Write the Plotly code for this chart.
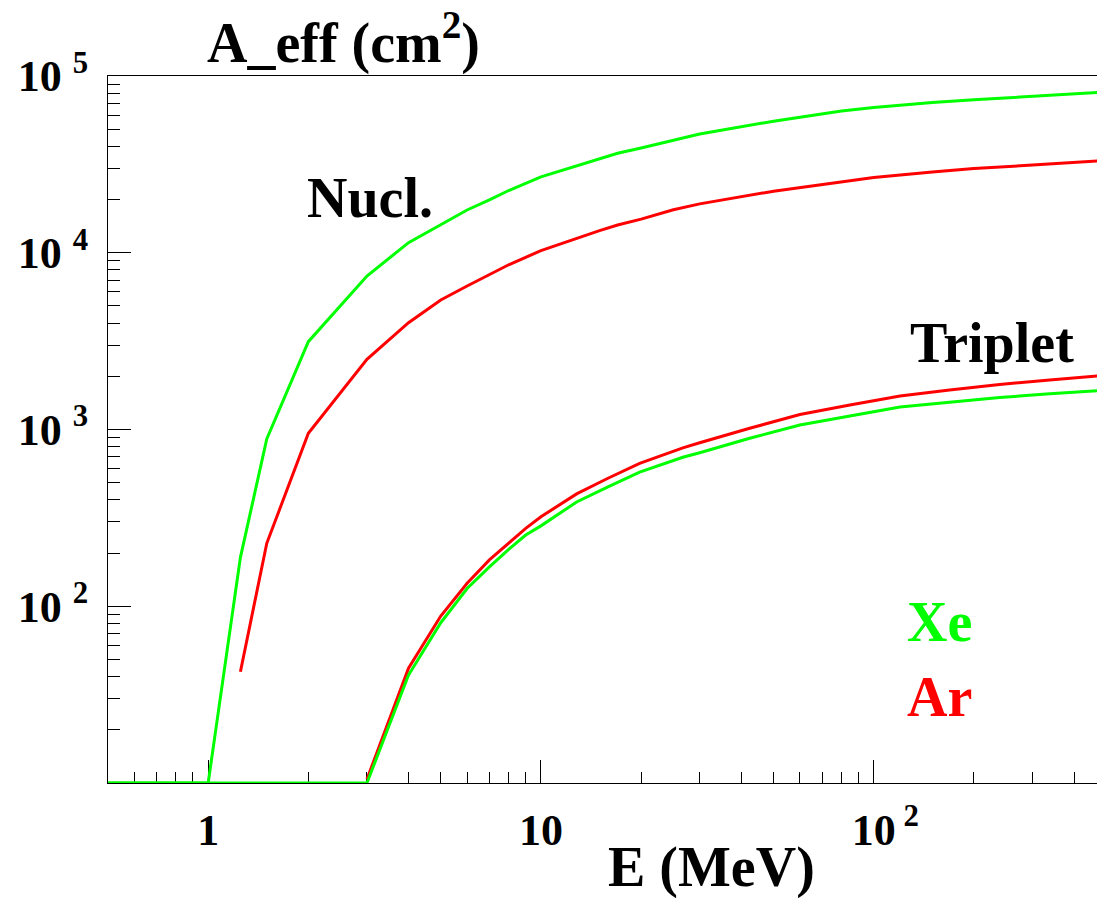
import plotly.graph_objects as go

# ---- data ----
E_nucl_xe = [0.5, 1, 1.25, 1.5, 2, 3, 4, 5, 6, 7, 8, 10, 13, 17, 20, 25, 30, 50, 80, 100,
             150, 200, 300, 500]
A_nucl_xe = [10, 10, 189, 884, 3140, 7390, 11400, 14350, 17460, 19900, 22500, 26900, 31370,
             36550, 39100, 43300, 47000, 55500, 63400, 66340, 70800, 73340, 76560, 81300]

E_nucl_ar = [1.25, 1.5, 2, 3, 4, 5, 6, 7, 8, 10, 12, 15, 17, 20, 25, 30, 50, 100, 150, 200,
             300, 500]
A_nucl_ar = [42.6, 227, 952, 2495, 4020, 5400, 6480, 7500, 8550, 10280, 11600, 13330, 14350,
             15500, 17500, 18900, 22300, 26650, 28630, 29920, 31370, 33350]

E_trip_ar = [3, 4, 5, 6, 7, 8, 9, 10, 12.8, 15.9, 19.8, 26.7, 30, 42.4, 60, 84.8, 120, 169,
             239, 338, 469]
A_trip_ar = [10.5, 44.6, 88, 135, 183, 229, 276, 321, 432, 530, 643, 787, 842, 1016, 1216,
             1376, 1547, 1673, 1797, 1905, 2008]

E_trip_xe = [0.5, 3, 4, 5, 6, 7, 8, 9, 10, 12.8, 15.9, 19.8, 26.7, 30, 42.4, 60, 84.8, 120,
             169, 239, 338, 469]
A_trip_xe = [10, 10, 40.8, 80.7, 126, 167, 210, 253, 285, 389, 474, 574, 697, 739, 892, 1061,
             1192, 1341, 1426, 1517, 1592, 1658]

x_major = [1, 10, 100]
x_major_text = ["1", "10",
                "<span style='color:rgba(0,0,0,0)'><sup> 2</sup></span>10<sup> 2</sup>"]
y_major = [10, 100, 1000, 10000, 100000]
y_major_text = ["", "10 <sup>2</sup>", "10 <sup>3</sup>", "10 <sup>4</sup>", "10 <sup>5</sup>"]

x_minor = [m * 10 ** d for d in (-1, 0, 1, 2) for m in range(2, 10)]
y_minor = [m * 10 ** d for d in (1, 2, 3, 4) for m in range(2, 10)]

GREEN = "#00ff00"
RED = "#ff0000"
FONT = "Liberation Serif"

fig = go.Figure()
fig.add_trace(go.Scatter(x=E_nucl_ar, y=A_nucl_ar, mode="lines",
                         line=dict(color=RED, width=3), name="Ar nucl"))
fig.add_trace(go.Scatter(x=E_trip_ar, y=A_trip_ar, mode="lines",
                         line=dict(color=RED, width=3), name="Ar triplet"))
fig.add_trace(go.Scatter(x=E_nucl_xe, y=A_nucl_xe, mode="lines",
                         line=dict(color=GREEN, width=3), name="Xe nucl"))
fig.add_trace(go.Scatter(x=E_trip_xe, y=A_trip_xe, mode="lines",
                         line=dict(color=GREEN, width=3), name="Xe triplet"))

fig.update_layout(
    width=1097, height=899,
    margin=dict(l=108, r=0, t=76, b=116),
    paper_bgcolor="white", plot_bgcolor="white",
    showlegend=False,
    font=dict(family=FONT, size=44, color="black", weight="bold"),
)

fig.update_xaxes(
    type="log", range=[-0.30103, 2.671],
    showgrid=False, zeroline=False,
    showline=True, linecolor="black", linewidth=1, mirror=True,
    ticks="inside", ticklen=23, tickwidth=1, tickcolor="black",
    tickvals=x_major, ticktext=x_major_text,
    tickfont=dict(family=FONT, size=44, color="black", weight="bold"),
    ticklabelstandoff=8,
    minor=dict(tickvals=x_minor, ticks="inside", ticklen=11, tickwidth=1,
               tickcolor="black", showgrid=False),
    layer="below traces",
)
fig.update_yaxes(
    type="log", range=[1, 5],
    showgrid=False, zeroline=False,
    showline=True, linecolor="black", linewidth=1,
    ticks="inside", ticklen=23, tickwidth=1, tickcolor="black",
    tickvals=y_major, ticktext=y_major_text,
    tickfont=dict(family=FONT, size=44, color="black", weight="bold"),
    ticklabelstandoff=10,
    minor=dict(tickvals=y_minor, ticks="inside", ticklen=12, tickwidth=1,
               tickcolor="black", showgrid=False),
    layer="below traces",
)

ann = dict(xref="paper", yref="paper", showarrow=False, xanchor="center", yanchor="middle")
big = dict(family=FONT, size=56, weight="bold")
fig.add_annotation(text="A_eff (cm<sup>2</sup>)", x=0.2386, y=1.053,
                   font=dict(color="black", **big), **ann)
fig.add_annotation(text="E (MeV)", x=0.61, y=-0.12,
                   font=dict(color="black", **big), **ann)
fig.add_annotation(text="Nucl.", x=0.2654, y=0.828,
                   font=dict(color="black", **big), **ann)
fig.add_annotation(text="Triplet", x=0.894, y=0.623,
                   font=dict(color="black", **big), **ann)
fig.add_annotation(text="Xe", x=0.8407, y=0.228,
                   font=dict(color=GREEN, **big), **ann)
fig.add_annotation(text="Ar", x=0.8407, y=0.122,
                   font=dict(color=RED, **big), **ann)

fig.write_html("out.html",
               config={"displayModeBar": False},
               post_script="document.body.style.margin='0px';"
                           "document.body.style.overflow='hidden';")
